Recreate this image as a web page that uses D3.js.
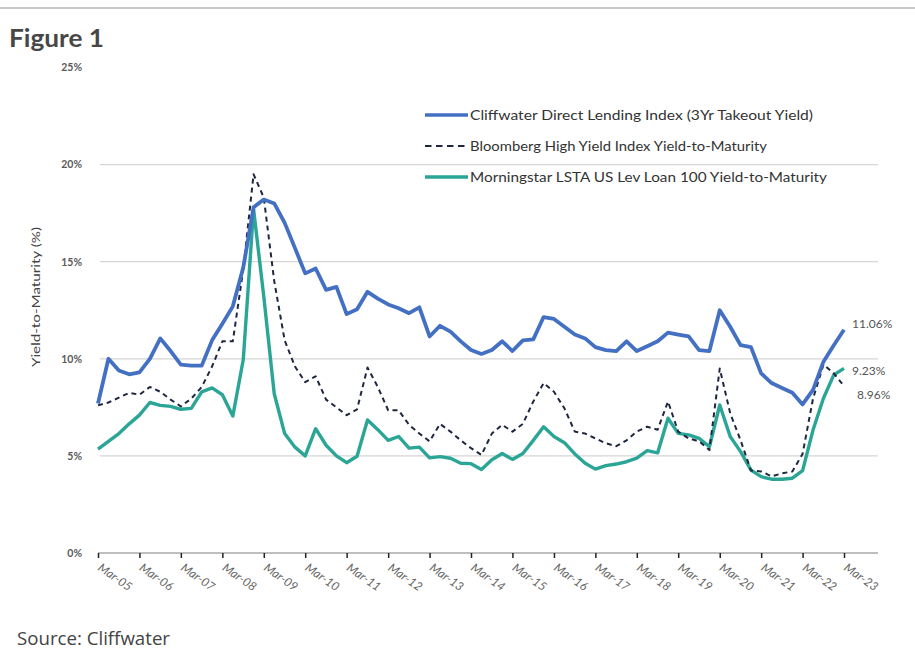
<!DOCTYPE html>
<html>
<head>
<meta charset="utf-8">
<script src="https://cdn.jsdelivr.net/npm/d3@7"></script>
<style>
  body { margin: 0; background: #fff; }
  svg { display: block; font-family: Lato, "Open Sans", sans-serif; }
</style>
</head>
<body>
<div id="chart"></div>
<script>
// quarterly points, Mar-05 .. Mar-23
let cliffwater = [
    7.7, 10.0, 9.4, 9.2, 9.3, 10.0, 11.05, 10.4, 9.7, 9.65, 9.65, 10.95, 11.8, 12.7, 14.7, 17.8,
    18.2, 18.0, 17.0, 15.7, 14.4, 14.65, 13.55, 13.7, 12.3, 12.55, 13.45, 13.1, 12.8, 12.6, 12.35, 12.65,
    11.15, 11.7, 11.4, 10.9, 10.45, 10.25, 10.45, 10.9, 10.4, 10.95, 11.0, 12.15, 12.05, 11.65, 11.25, 11.05,
    10.6, 10.45, 10.4, 10.9, 10.4, 10.65, 10.9, 11.35, 11.25, 11.15, 10.45, 10.4, 12.5, 11.65, 10.7, 10.6,
    9.25, 8.75, 8.5, 8.25, 7.65, 8.4, 9.85, 10.7, 11.5
];
let bloomberg = [
    7.6, 7.75, 8.0, 8.25, 8.15, 8.55, 8.3, 7.9, 7.55, 7.95, 8.55, 9.6, 10.9, 10.9, 14.6, 19.5,
    18.3, 14.0, 10.95, 9.6, 8.8, 9.1, 7.9, 7.5, 7.1, 7.4, 9.55, 8.55, 7.35, 7.35, 6.6, 6.15,
    5.75, 6.65, 6.25, 5.8, 5.4, 5.05, 6.15, 6.6, 6.25, 6.65, 7.8, 8.75, 8.3, 7.45, 6.25, 6.15,
    5.9, 5.65, 5.5, 5.8, 6.25, 6.5, 6.35, 7.8, 6.25, 5.9, 5.75, 5.3, 9.5, 7.2, 5.8, 4.25,
    4.2, 3.95, 4.1, 4.2, 5.1, 7.95, 9.7, 9.25, 8.6
];
let lsta = [
    5.35, 5.75, 6.15, 6.65, 7.1, 7.75, 7.6, 7.55, 7.4, 7.45, 8.3, 8.5, 8.15, 7.05, 9.95, 17.7,
    13.2, 8.2, 6.15, 5.45, 5.0, 6.4, 5.55, 5.0, 4.65, 4.98, 6.85, 6.35, 5.8, 6.0, 5.4, 5.45,
    4.9, 4.96, 4.88, 4.62, 4.6, 4.3, 4.8, 5.12, 4.82, 5.12, 5.8, 6.5, 6.0, 5.68, 5.1, 4.62,
    4.32, 4.5, 4.58, 4.7, 4.88, 5.27, 5.16, 6.94, 6.16, 6.08, 5.9, 5.47, 7.62, 6.0, 5.22, 4.27,
    3.93, 3.8, 3.8, 3.85, 4.24, 6.33, 7.97, 9.17, 9.51
];
let seriesNames = [
    "Cliffwater Direct Lending Index (3Yr Takeout Yield)",
    "Bloomberg High Yield Index Yield-to-Maturity",
    "Morningstar LSTA US Lev Loan 100 Yield-to-Maturity"
];
let endLabels = ["11.06%", "8.96%", "9.23%"];
let tickLabels = ["Mar-05", "Mar-06", "Mar-07", "Mar-08", "Mar-09", "Mar-10", "Mar-11", "Mar-12", "Mar-13",
    "Mar-14", "Mar-15", "Mar-16", "Mar-17", "Mar-18", "Mar-19", "Mar-20", "Mar-21", "Mar-22", "Mar-23"];
let yTicks = [0, 5, 10, 15, 20, 25];

let W = 915, H = 655;
let svg = d3.select("#chart").append("svg")
    .attr("width", W)
    .attr("height", H);

let start = new Date(2005, 2, 1);
let quarterDate = function (i) { return d3.timeMonth.offset(start, 3 * i); };
let tickDates = tickLabels.map(function (d, i) { return d3.timeYear.offset(start, i); });

let x = d3.scaleTime()
    .domain([start, tickDates[tickDates.length - 1]])
    .range([98, 844]);
let y = d3.scaleLinear()
    .domain([0, 25])
    .range([553, 67.5]);

// top rule
svg.append("line")
    .attr("x1", 0).attr("x2", W)
    .attr("y1", 8).attr("y2", 8)
    .attr("stroke", "#c8c8c8").attr("stroke-width", 2);

svg.append("text")
    .attr("x", 9).attr("y", 47)
    .attr("textLength", 95)
    .attr("lengthAdjust", "spacingAndGlyphs")
    .style("font-size", "25px")
    .style("font-weight", "bold")
    .style("fill", "#474747")
    .text("Figure 1");

// gridlines
svg.append("g")
    .selectAll("line")
    .data(yTicks.filter(function (d) { return d > 0 && d < 25; }))
    .enter()
    .append("line")
    .attr("x1", 100).attr("x2", 878)
    .attr("y1", function (d) { return y(d); })
    .attr("y2", function (d) { return y(d); })
    .attr("stroke", "#d6d6d6")
    .attr("stroke-width", 1.2);

// y axis labels
let yAxis = svg.append("g")
    .attr("transform", "translate(84,0)")
    .call(d3.axisLeft(y).tickValues(yTicks).tickSize(0).tickPadding(2)
        .tickFormat(function (d) { return d + "%"; }));
yAxis.select(".domain").remove();
yAxis.selectAll("text")
    .style("font-family", "Lato, sans-serif")
    .style("font-size", "10.5px")
    .style("font-weight", "bold")
    .style("fill", "#5a5a5a");

svg.append("text")
    .attr("transform", "translate(36,297) rotate(-90)")
    .attr("text-anchor", "middle")
    .attr("dy", "0.35em")
    .attr("textLength", 140)
    .attr("lengthAdjust", "spacingAndGlyphs")
    .style("font-size", "11.5px")
    .style("fill", "#444")
    .text("Yield-to-Maturity (%)");

// x axis
svg.append("line")
    .attr("x1", 98).attr("x2", 878)
    .attr("y1", y(0)).attr("y2", y(0))
    .attr("stroke", "#a8a8a8").attr("stroke-width", 1.5);

let xAxis = svg.append("g")
    .attr("transform", "translate(0," + y(0) + ")")
    .call(d3.axisBottom(x).tickValues(tickDates).tickSize(5)
        .tickFormat(function (d, i) { return tickLabels[i]; }));
xAxis.select(".domain").remove();
xAxis.selectAll(".tick line").attr("stroke", "#222").attr("stroke-width", 1.5);
xAxis.selectAll("text")
    .attr("text-anchor", "start")
    .attr("transform", "translate(1,13) rotate(35)")
    .attr("x", 0).attr("y", 0).attr("dy", "0.35em")
    .style("font-family", "Lato, sans-serif")
    .style("font-size", "12px")
    .style("font-style", "italic")
    .style("fill", "#666");

// lines
let line = d3.line()
    .x(function (d, i) { return x(quarterDate(i)); })
    .y(function (d) { return y(d); });

let styles = [
    {color: "#4470c4", width: 3.8, dash: null, legendDash: null, dx: 8, dy: -6},
    {color: "#1d2740", width: 2, dash: "5,4", legendDash: "6.5,4.5", dx: 13, dy: 9},
    {color: "#2ba596", width: 3.4, dash: null, legendDash: null, dx: 8, dy: 2.5}
];
let allSeries = [cliffwater, bloomberg, lsta];
let drawOrder = [2, 1, 0];

drawOrder.forEach(function (k) {
    svg.append("path")
        .datum(allSeries[k])
        .attr("d", line)
        .attr("fill", "none")
        .attr("stroke", styles[k].color)
        .attr("stroke-width", styles[k].width)
        .attr("stroke-dasharray", styles[k].dash)
        .attr("stroke-linejoin", "round");
});

// end labels
let endX = x(quarterDate(cliffwater.length - 1));
svg.append("g")
    .selectAll("text")
    .data(allSeries)
    .enter()
    .append("text")
    .attr("x", function (d, i) { return endX + styles[i].dx; })
    .attr("y", function (d, i) { return y(d[d.length - 1]) + styles[i].dy; })
    .attr("dy", "0.35em")
    .style("font-size", "12px")
    .style("fill", "#555")
    .text(function (d, i) { return endLabels[i]; });

// legend
let legendLengths = [343, 297, 357];
let legend = svg.append("g")
    .selectAll("g")
    .data(seriesNames)
    .enter()
    .append("g")
    .attr("transform", function (d, i) { return "translate(425," + (115 + i * 31) + ")"; });
legend.append("line")
    .attr("x1", 0).attr("x2", 43)
    .attr("stroke", function (d, i) { return styles[i].color; })
    .attr("stroke-width", function (d, i) { return i === 1 ? 1.8 : 3.5; })
    .attr("stroke-dasharray", function (d, i) { return styles[i].legendDash; });
legend.append("text")
    .attr("x", 45)
    .attr("dy", "0.35em")
    .attr("textLength", function (d, i) { return legendLengths[i]; })
    .attr("lengthAdjust", "spacingAndGlyphs")
    .style("font-size", "13px")
    .style("fill", "#333")
    .text(function (d) { return d; });

svg.append("text")
    .attr("x", 17).attr("y", 645)
    .attr("textLength", 153)
    .attr("lengthAdjust", "spacingAndGlyphs")
    .style("font-family", "'Open Sans', sans-serif")
    .style("font-size", "17.5px")
    .style("fill", "#444")
    .text("Source: Cliffwater");
</script>
</body>
</html>
